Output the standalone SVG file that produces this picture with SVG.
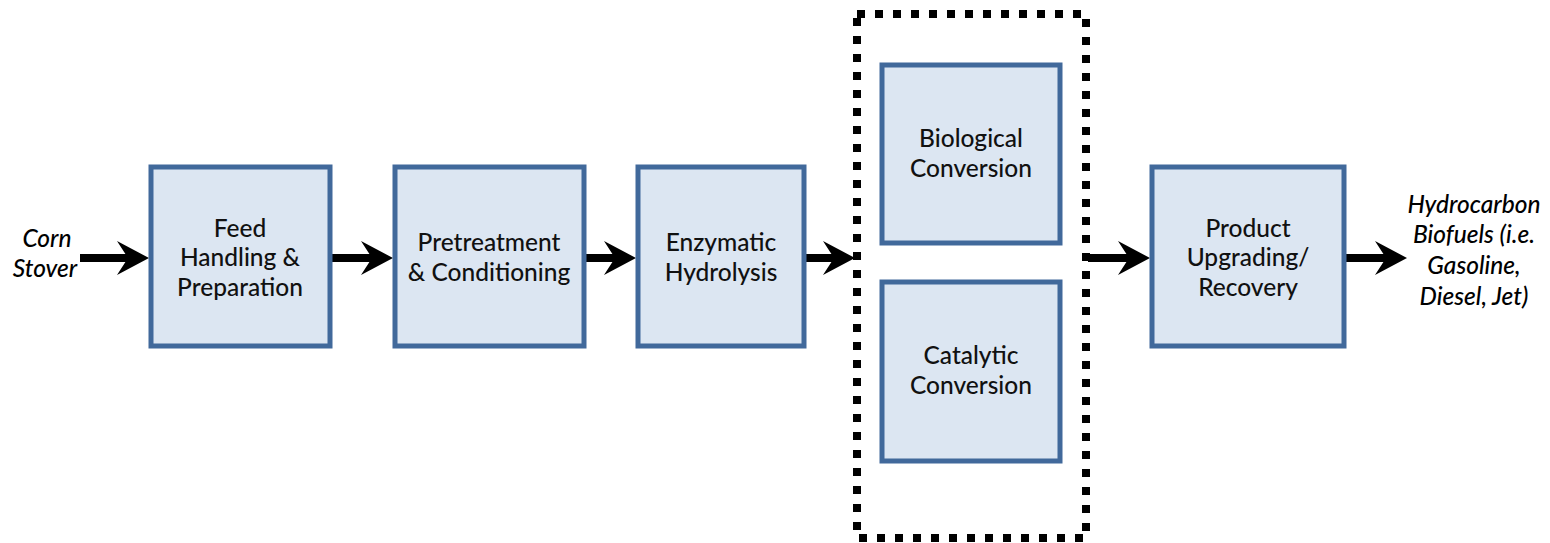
<svg xmlns="http://www.w3.org/2000/svg" width="1550" height="543" viewBox="0 0 1550 543">
<style>
.box{fill:#dce6f2;stroke:#41699b;stroke-width:5}
.t{font-family:Lato,"Open Sans",sans-serif;font-size:24.5px;font-weight:500;fill:#111;text-anchor:middle}
.i{font-family:Lato,"Open Sans",sans-serif;font-size:24.5px;font-weight:500;font-style:italic;fill:#000;text-anchor:middle}
.c{stroke:#000;stroke-width:8;fill:none}
</style>
<defs>
<marker id="ah" markerUnits="userSpaceOnUse" markerWidth="33" markerHeight="36" refX="11" refY="18" orient="auto" viewBox="0 0 33 36">
<path d="M0,1 L32,18 L0,35 L11,18 Z" fill="#000"/>
</marker>
</defs>
<rect width="1550" height="543" fill="#fff"/>
<g id="dashed-group">
<rect x="857" y="14" width="229" height="524" fill="none" stroke="#000" stroke-width="8" stroke-dasharray="8 10"/>
</g>
<g id="connectors">
<line class="c" x1="80" y1="258" x2="128" y2="258" marker-end="url(#ah)"/>
<line class="c" x1="332" y1="258" x2="372" y2="258" marker-end="url(#ah)"/>
<line class="c" x1="586" y1="258" x2="615" y2="258" marker-end="url(#ah)"/>
<line class="c" x1="806" y1="258" x2="834" y2="258" marker-end="url(#ah)"/>
<line class="c" x1="1088" y1="258" x2="1129" y2="258" marker-end="url(#ah)"/>
<line class="c" x1="1346" y1="258" x2="1386" y2="258" marker-end="url(#ah)"/>
</g>
<g id="input">
<text class="i" x="47" y="247">Corn</text>
<text class="i" x="45" y="277">Stover</text>
</g>
<g id="feed">
<rect class="box" x="151" y="167" width="179" height="179"/>
<text class="t" x="240" y="237">Feed</text>
<text class="t" x="240" y="266">Handling &amp;</text>
<text class="t" x="240" y="296">Preparation</text>
</g>
<g id="pretreatment">
<rect class="box" x="395" y="167" width="189" height="179"/>
<text class="t" x="489" y="251">Pretreatment</text>
<text class="t" x="489" y="281">&amp; Conditioning</text>
</g>
<g id="enzymatic">
<rect class="box" x="638" y="167" width="166" height="179"/>
<text class="t" x="721" y="251">Enzymatic</text>
<text class="t" x="721" y="281">Hydrolysis</text>
</g>
<g id="biological">
<rect class="box" x="882" y="65" width="178" height="178"/>
<text class="t" x="971" y="147">Biological</text>
<text class="t" x="971" y="177">Conversion</text>
</g>
<g id="catalytic">
<rect class="box" x="882" y="282" width="178" height="179"/>
<text class="t" x="971" y="364">Catalytic</text>
<text class="t" x="971" y="394">Conversion</text>
</g>
<g id="product">
<rect class="box" x="1152" y="167" width="192" height="179"/>
<text class="t" x="1248" y="237">Product</text>
<text class="t" x="1248" y="266">Upgrading/</text>
<text class="t" x="1248" y="296">Recovery</text>
</g>
<g id="output">
<text class="i" x="1474" y="213">Hydrocarbon</text>
<text class="i" x="1474" y="243">Biofuels (i.e.</text>
<text class="i" x="1474" y="274">Gasoline,</text>
<text class="i" x="1474" y="305">Diesel, Jet)</text>
</g>
</svg>
